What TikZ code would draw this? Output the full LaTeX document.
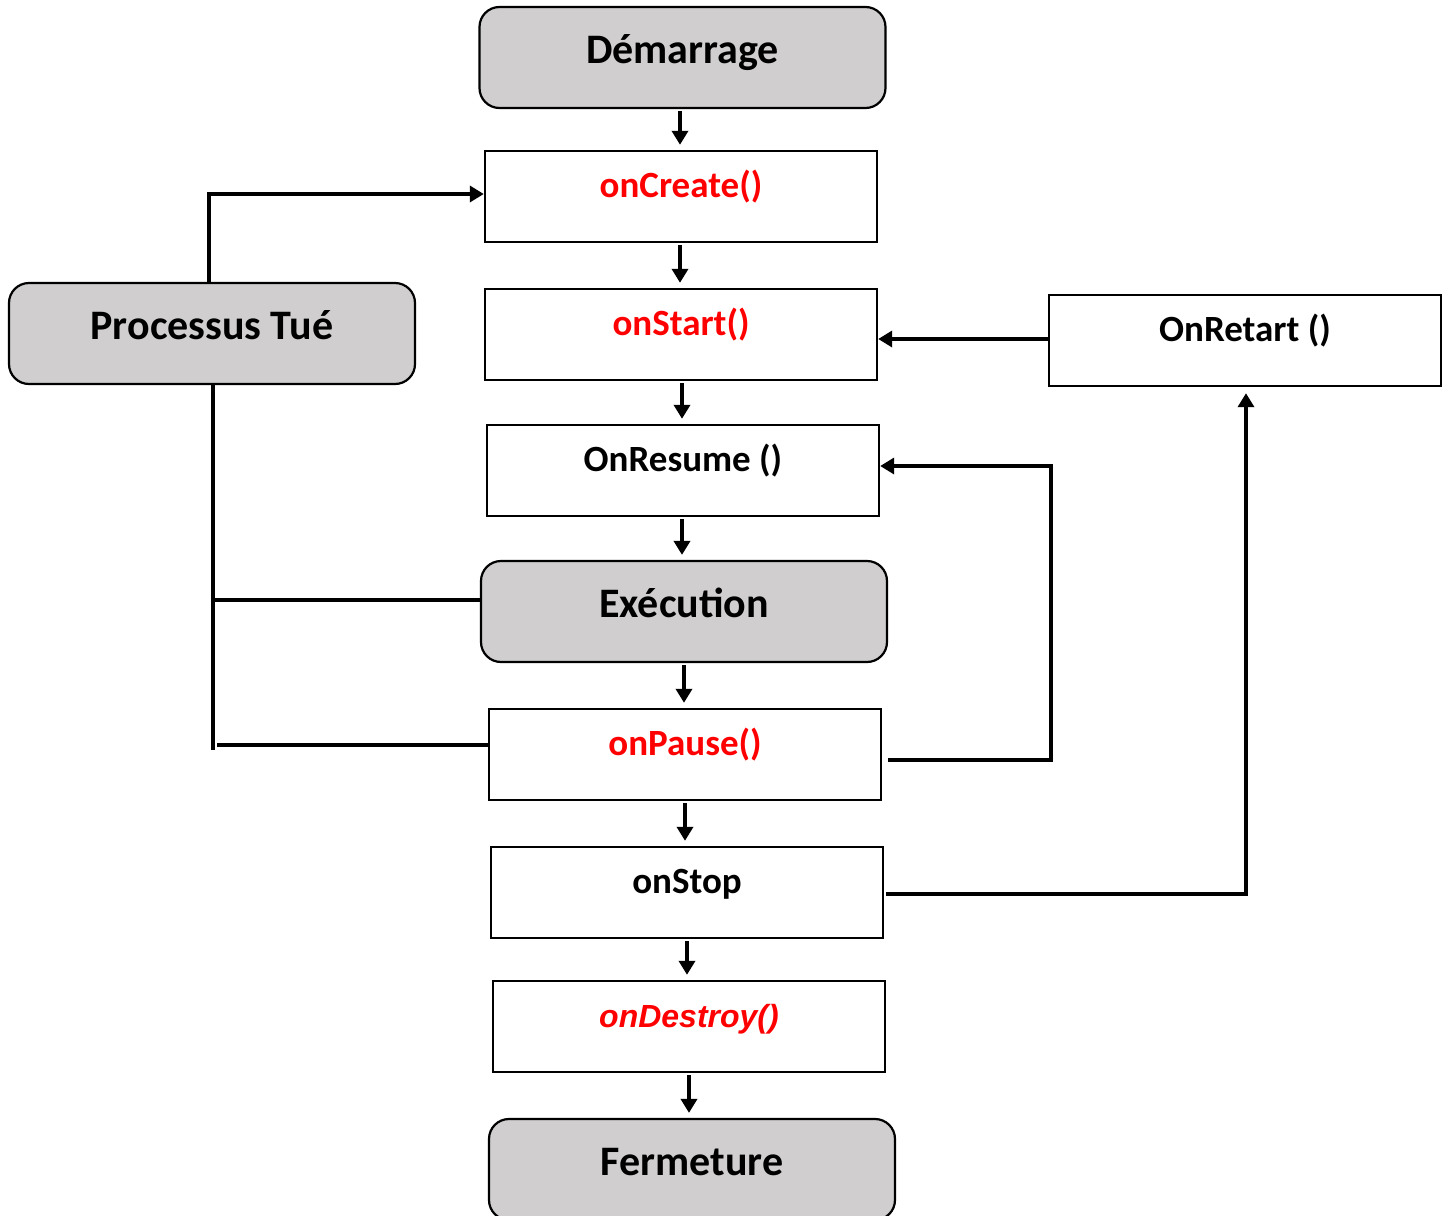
\documentclass[tikz,border=0pt]{standalone}
\usepackage{fontspec}
\setmainfont{Carlito}
\newfontfamily\arialfont{Liberation Sans}
\usetikzlibrary{arrows.meta,calc}
\definecolor{boxgray}{HTML}{D0CECE}
\definecolor{redtxt}{HTML}{FF0000}
\begin{document}
\begin{tikzpicture}[x=0.5pt,y=-0.5pt,
  graybox/.style={draw=black,line width=1.1pt,fill=boxgray,rounded corners=10pt,
    minimum width=203pt,minimum height=50.5pt,inner sep=0pt,
    font=\fontsize{21}{24}\selectfont\bfseries,text height=12pt,text depth=6pt},
  whitebox/.style={draw=black,line width=1.2pt,fill=white,
    minimum width=196pt,minimum height=45.5pt,inner sep=0pt,
    font=\fontsize{18.5}{22}\selectfont\bfseries,text height=9.6pt,text depth=8.4pt},
  conn/.style={line width=2.1pt},
  arr/.style={line width=2.1pt,-{Triangle[length=7pt,width=8pt]}},
  varr/.style={arr,shorten <=1pt,shorten >=2.5pt}]
\useasboundingbox (0,0) rectangle (1448,1216);

\node[graybox] (dem) at (682.5,57.5) {Démarrage};
\node[whitebox,text=redtxt] (create) at (681,196.5) {onCreate()};
\node[whitebox,text=redtxt] (start) at (681,334.5) {onStart()};
\node[whitebox] (resume) at (683,470.5) {OnResume ()};
\node[graybox] (exec) at (684,611.5) {Exécution};
\node[whitebox,text=redtxt] (pause) at (685,754.5) {onPause()};
\node[whitebox] (stop) at (687,892.5) {onStop};
\node[whitebox,text=redtxt,font=\arialfont\fontsize{16}{20}\selectfont\bfseries\itshape] (destroy) at (689,1026.5) {onDestroy()};
\node[graybox] (ferm) at (692,1169.5) {Fermeture};
\node[graybox] (kill) at (212,333.5) {Processus Tué};
\node[whitebox] (restart) at (1245,340.5) {OnRetart ()};

% vertical flow
\draw[varr] (dem.south -| 680,0) -- (create.north -| 680,0);
\draw[varr] (create.south -| 680,0) -- (start.north -| 680,0);
\draw[varr] (start.south -| 682,0) -- (resume.north -| 682,0);
\draw[varr] (resume.south -| 682,0) -- (exec.north -| 682,0);
\draw[varr] (exec.south -| 684,0) -- (pause.north -| 684,0);
\draw[varr] (pause.south -| 685,0) -- (stop.north -| 685,0);
\draw[varr] (stop.south -| 687,0) -- (destroy.north -| 687,0);
\draw[varr] (destroy.south -| 689,0) -- (ferm.north -| 689,0);

% Processus Tue -> onCreate
\draw[arr] (kill.north -| 209,0) |- (create.west |- 0,194);
% OnRetart -> onStart
\draw[arr] (restart.west |- 0,339) -- (start.east |- 0,339);
% onPause -> OnResume
\draw[arr] ($(pause.east |- 0,760)+(6,0)$) -| (1051,466) -- (resume.east |- 0,466);
% onStop -> OnRetart
\draw[arr] ($(stop.east |- 0,894)+(2,0)$) -| ($(restart.south -| 1246,0)+(0,6)$);
% Execution / onPause -> Processus Tue
\coordinate (kbot) at (213,750);
\draw[conn] (kill.south -| 213,0) -- (kbot);
\draw[conn] (exec.west |- 0,600) -- (213,600);
\draw[conn] (pause.west |- 0,745) -- (217,745);
\end{tikzpicture}
\end{document}
